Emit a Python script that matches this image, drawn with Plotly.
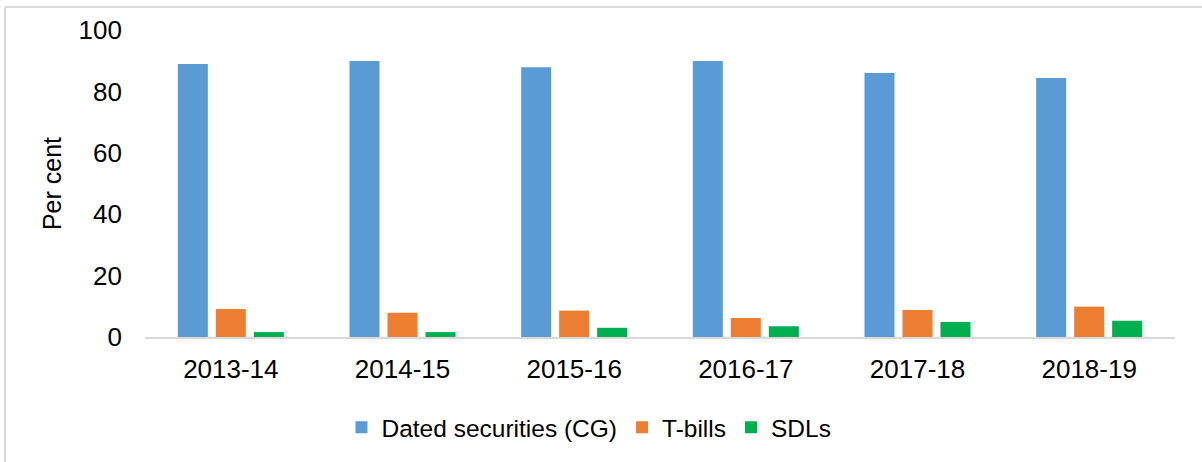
import plotly.graph_objects as go

years = ["2013-14", "2014-15", "2015-16", "2016-17", "2017-18", "2018-19"]
dated_cg = [88.9, 89.9, 87.9, 89.9, 86.0, 84.4]
t_bills = [9.1, 7.9, 8.6, 6.2, 8.8, 9.9]
sdls = [1.6, 1.6, 3.0, 3.5, 4.9, 5.3]

FONT = "Liberation Sans, Arial, sans-serif"

fig = go.Figure()
fig.add_trace(go.Bar(x=years, y=dated_cg, name="Dated securities (CG)",
                     marker=dict(color="#5B9BD5", line=dict(width=0))))
fig.add_trace(go.Bar(x=years, y=t_bills, name="T-bills",
                     marker=dict(color="#ED7D31", line=dict(width=0))))
fig.add_trace(go.Bar(x=years, y=sdls, name="SDLs",
                     marker=dict(color="#00B050", line=dict(width=0))))

fig.update_layout(
    width=1202, height=462,
    margin=dict(l=145, r=27, t=30, b=125),
    paper_bgcolor="white", plot_bgcolor="white",
    barmode="group", bargap=0.336, bargroupgap=0.21,
    font=dict(family=FONT, size=25, color="#000000"),
    showlegend=True,
    legend=dict(orientation="h", xref="container", x=0.49, xanchor="center",
                yref="container", y=0.075, yanchor="middle",
                font=dict(family=FONT, size=24.5, color="#000000"),
                itemwidth=30, traceorder="normal"),
    xaxis=dict(showgrid=False, showline=True, linecolor="#D9D9D9", linewidth=2,
               ticks="", tickfont=dict(size=26), ticklabelstandoff=8),
    yaxis=dict(range=[0, 100], tickvals=[0, 20, 40, 60, 80, 100],
               showgrid=False, showline=False, zeroline=False, ticks="",
               tickfont=dict(size=26), ticklabelstandoff=22,
               title=dict(text="Per cent", font=dict(size=25), standoff=9)),
)

# light frame border (left and top edges visible in the reference)
fig.add_shape(type="line", xref="paper", yref="paper",
              x0=-140/1030, x1=-140/1030, y0=(337-7)/307, y1=-(470-337)/307,
              line=dict(color="#D9D9D9", width=2))
fig.add_shape(type="line", xref="paper", yref="paper",
              x0=-140/1030, x1=1.05, y0=(337-7)/307, y1=(337-7)/307,
              line=dict(color="#D9D9D9", width=2))

fig.write_html("out.html", config={"displayModeBar": False},
               post_script="document.body.style.margin='0px';")
